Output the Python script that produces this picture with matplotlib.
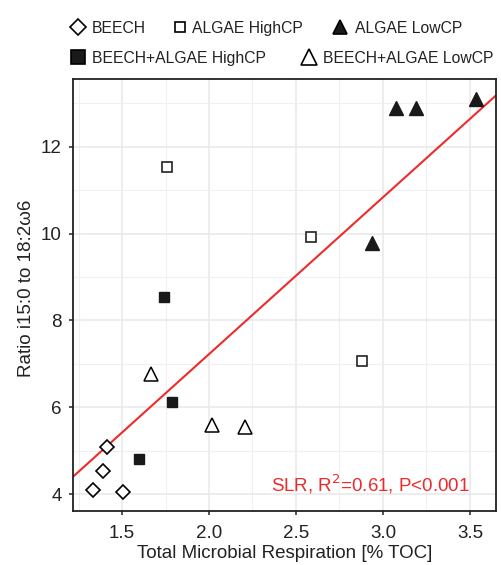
import matplotlib
matplotlib.use("Agg")
import matplotlib.pyplot as plt
import numpy as np
from matplotlib.lines import Line2D
from matplotlib.ticker import MultipleLocator

plt.rcParams['font.family'] = ['Liberation Sans', 'DejaVu Sans']

beech_x = [1.412, 1.389, 1.332, 1.508]
beech_y = [5.09, 4.53, 4.09, 4.05]
algae_high_x = [1.759, 2.586, 2.879]
algae_high_y = [11.54, 9.91, 7.06]
algae_low_x = [3.075, 3.188, 3.536, 2.939]
algae_low_y = [12.89, 12.89, 13.10, 9.78]
mix_high_x = [1.596, 1.741, 1.787]
mix_high_y = [4.80, 8.53, 6.11]
mix_low_x = [2.019, 2.207, 1.667]
mix_low_y = [5.59, 5.54, 6.76]

xt = [1.5, 2.0, 2.5, 3.0, 3.5]
yt = [4, 6, 8, 10, 12]

W, H = 501, 565
fig = plt.figure(figsize=(W / 100, H / 100), dpi=100)
ax = fig.add_axes([73/W, 54/H, 423/W, 432/H])

xmin, xmax = 1.218, 3.65
ymin, ymax = 3.61, 13.56

# regression
allx = np.array(beech_x + algae_high_x + algae_low_x + mix_high_x + mix_low_x)
ally = np.array(beech_y + algae_high_y + algae_low_y + mix_high_y + mix_low_y)
b, a = np.polyfit(allx, ally, 1)
lx = np.array([xmin, xmax])
ax.plot(lx, a + b * lx, color='#ee2b2b', lw=1.5, zorder=2)

kw = dict(linestyle='none', color='black', zorder=3)
ax.plot(beech_x, beech_y, marker='D', ms=7.6, mfc='white', mec='black', mew=1.2, **kw)
ax.plot(algae_high_x, algae_high_y, marker='s', ms=7.5, mfc='white', mec='#222222', mew=1.2, **kw)
ax.plot(algae_low_x, algae_low_y, marker='^', ms=9.5, mfc='#1a1a1a', mec='#1a1a1a', **kw)
ax.plot(mix_high_x, mix_high_y, marker='s', ms=7.5, mfc='#1a1a1a', mec='#1a1a1a', **kw)
ax.plot(mix_low_x, mix_low_y, marker='^', ms=10, mfc='white', mec='black', mew=1.1, **kw)

ax.set_xlim(xmin, xmax)
ax.set_ylim(ymin, ymax)
ax.set_xticks(xt)
ax.set_xticklabels(['1.5', '2.0', '2.5', '3.0', '3.5'])
ax.set_yticks(yt)
ax.xaxis.set_minor_locator(MultipleLocator(0.25))
ax.yaxis.set_minor_locator(MultipleLocator(1))
ax.grid(True, which='major', color='#e8e8e8', lw=1.1, zorder=0)
ax.grid(True, which='minor', color='#f0f0f0', lw=0.8, zorder=0)
ax.set_axisbelow(True)
ax.tick_params(which='minor', length=0)
ax.tick_params(which='major', length=3, width=1.1, color='#222222', labelsize=13.5, labelcolor='#222222')
ax.tick_params(axis='x', pad=7)
ax.tick_params(axis='y', pad=5)
for s in ax.spines.values():
    s.set_linewidth(1.3)
    s.set_color('#222222')

ax.set_xlabel('Total Microbial Respiration [% TOC]', fontsize=13.5, color='#222222', labelpad=2)
ax.set_ylabel('Ratio i15:0 to 18:2ω6', fontsize=13.5, color='#222222')
ax.yaxis.set_label_coords(-0.091, 0.516)

ax.text(0.939, 0.046, 'SLR, R$^2$=0.61, P<0.001', transform=ax.transAxes, ha='right', va='baseline',
        color='#ee2b2b', fontsize=13.5)

# legend, placed by hand
def entry(mx, my, marker, ms, mfc, tx, ty, label):
    fig.add_artist(Line2D([mx / W], [1 - my / H], transform=fig.transFigure, linestyle='none',
                          marker=marker, ms=ms, mfc=mfc, mec='black', mew=1.2))
    fig.text(tx / W, 1 - ty / H, label, fontsize=11.3, color='#222222', ha='left', va='baseline')

entry(78, 26.7, 'D', 8, 'white', 91.5, 32.7, 'BEECH')
entry(180, 27, 's', 7.5, 'white', 192.5, 32.7, 'ALGAE HighCP')
entry(340, 27, '^', 10.5, '#1a1a1a', 355, 32.7, 'ALGAE LowCP')
entry(78, 56.7, 's', 10, '#1a1a1a', 91.5, 63.3, 'BEECH+ALGAE HighCP')
entry(308.7, 57, '^', 11.5, 'white', 323.3, 63.3, 'BEECH+ALGAE LowCP')

fig.savefig('out.png', dpi=100)
